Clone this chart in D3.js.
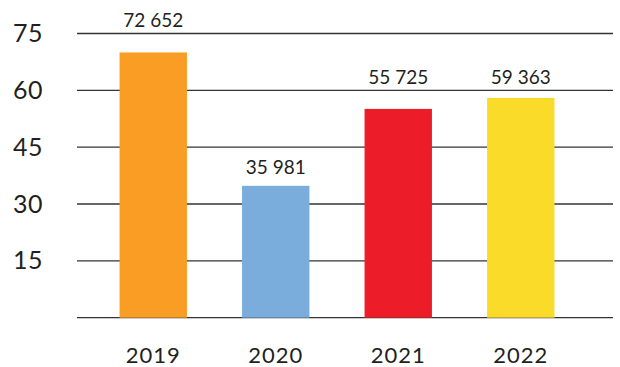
<!DOCTYPE html>
<html>
<head>
<meta charset="utf-8">
<script src="https://cdn.jsdelivr.net/npm/d3@7"></script>
<style>
  body { margin: 0; background: #fff; }
  svg text { font-family: Lato, "Noto Sans", sans-serif; fill: #231f20; }
</style>
</head>
<body>
<script>
// values
var years = ["2019", "2020", "2021", "2022"];
var barValues = [70, 34.8, 55.1, 58.0];        // bar heights as drawn (thousands)
var valueLabels = ["72 652", "35 981", "55 725", "59 363"];
var barColors = ["#f99d25", "#7aaddc", "#ed1c29", "#fbdb2a"];
var yTicks = [15, 30, 45, 60, 75];

var width = 620, height = 367;
var gridLeft = 77, gridRight = 613;

var svg = d3.select("body").append("svg")
  .attr("width", width)
  .attr("height", height);

var x = d3.scaleBand()
  .domain(years)
  .range([92, 582])
  .paddingInner(0.45)
  .paddingOuter(0.225);

var y = d3.scaleLinear()
  .domain([0, 75])
  .range([317.7, 33.5]);

// grid lines + baseline
svg.append("g").selectAll("line")
  .data([0].concat(yTicks))
  .enter().append("line")
  .attr("x1", gridLeft).attr("x2", gridRight)
  .attr("y1", function(d) { return y(d); })
  .attr("y2", function(d) { return y(d); })
  .attr("stroke", "#333")
  .attr("stroke-width", 1.3);

// y labels
svg.append("g").selectAll("text")
  .data(yTicks)
  .enter().append("text")
  .attr("x", 13)
  .attr("y", function(d) { return y(d) + 8.5; })
  .attr("font-size", 25)
  .attr("letter-spacing", 0.5)
  .text(function(d) { return d; });

// bars
svg.append("g").selectAll("rect")
  .data(barValues)
  .enter().append("rect")
  .attr("x", function(d, i) { return x(years[i]); })
  .attr("width", x.bandwidth())
  .attr("y", function(d) { return y(d); })
  .attr("height", function(d) { return y(0) - y(d); })
  .attr("fill", function(d, i) { return barColors[i]; });

// value labels, pushed above a grid line if they would touch it
function labelY(v) {
  var base = y(v) - 12;
  yTicks.forEach(function(t) {
    var g = y(t);
    if (g > base - 17 && g < base + 6) base = g - 6.5;
  });
  return base;
}
svg.append("g").selectAll("text")
  .data(barValues)
  .enter().append("text")
  .attr("x", function(d, i) { return x(years[i]) + x.bandwidth() / 2; })
  .attr("y", function(d) { return labelY(d); })
  .attr("text-anchor", "middle")
  .attr("font-size", 19)
  .text(function(d, i) { return valueLabels[i]; });

// x labels
svg.append("g").selectAll("text")
  .data(years)
  .enter().append("text")
  .attr("x", function(d) { return x(d) + x.bandwidth() / 2; })
  .attr("y", 363)
  .attr("text-anchor", "middle")
  .attr("font-size", 22)
  .attr("letter-spacing", 1)
  .text(function(d) { return d; });
</script>
</body>
</html>
